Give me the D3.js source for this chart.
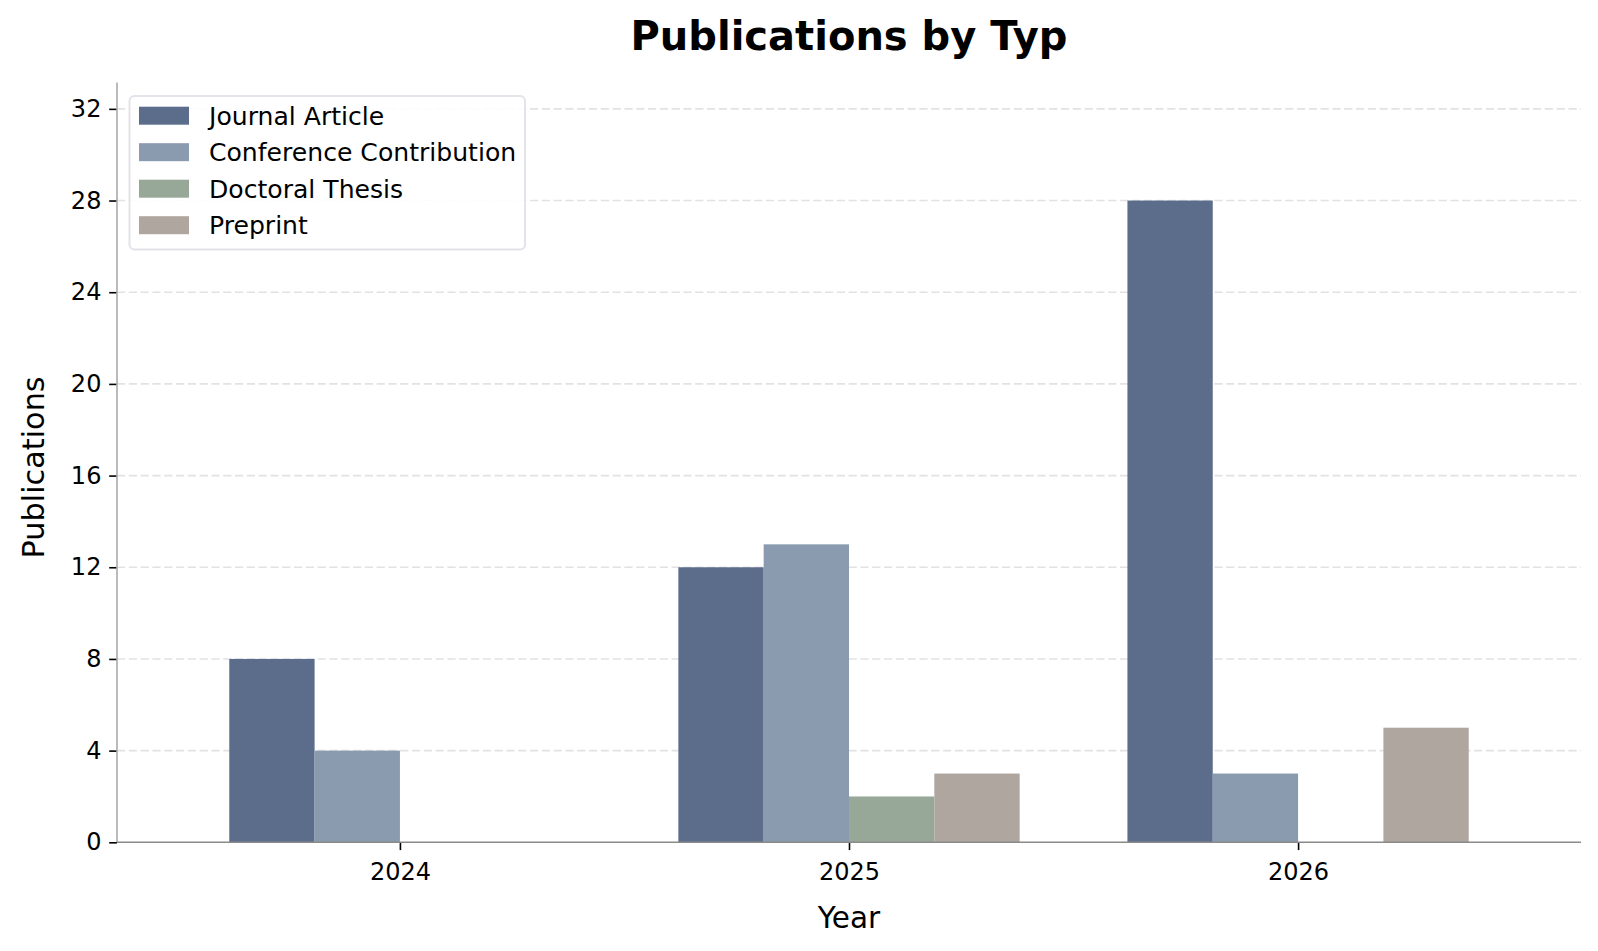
<!DOCTYPE html>
<html>
<head>
<meta charset="utf-8">
<script src="https://cdn.jsdelivr.net/npm/d3@7"></script>
<style>
  body { margin: 0; background: #fff; }
  svg { display: block; font-family: "DejaVu Sans", sans-serif; }
</style>
</head>
<body>
<svg id="chart"></svg>
<script>
const years = ["2024", "2025", "2026"]
const types = ["Journal Article", "Conference Contribution", "Doctoral Thesis", "Preprint"]
const journal = [8, 12, 28]
const conference = [4, 13, 3]
const thesis = [0, 2, 0]
const preprint = [0, 3, 5]
const yTicks = [0, 4, 8, 12, 16, 20, 24, 28, 32]
const colors = ["#5c6d8c", "#8a9aaf", "#98a898", "#afa6a0"]

const width = 1598
const height = 951
const plotLeft = 117, plotRight = 1581, plotTop = 82.5, plotBottom = 842.3
const barW = 0.19

const series = [journal, conference, thesis, preprint]

const svg = d3.select('#chart')
    .attr('width', width)
    .attr('height', height);

const x = d3.scaleLinear().domain([-0.63, 2.63]).range([plotLeft, plotRight]);
const y = d3.scaleLinear().domain([0, 33.15]).range([plotBottom, plotTop]);

// grid
svg.append('g')
    .selectAll('line')
    .data(yTicks.filter(d => d > 0))
    .enter()
    .append('line')
    .attr('x1', plotLeft)
    .attr('x2', plotRight)
    .attr('y1', d => y(d))
    .attr('y2', d => y(d))
    .attr('stroke', '#e2e2e4')
    .attr('stroke-width', 1.6)
    .attr('stroke-dasharray', '8.2,3.6');

// bars
let groups = svg.append('g')
    .selectAll('.series')
    .data(series)
    .enter()
    .append('g')
    .attr('class', 'series')
    .style('fill', (d, i) => colors[i]);

groups.selectAll('rect')
    .data((d, si) => d.map((v, yi) => ({v: v, pos: yi + (si - 1.5) * barW})))
    .enter()
    .append('rect')
    .attr('x', d => x(d.pos - barW / 2))
    .attr('width', d => x(d.pos + barW / 2) - x(d.pos - barW / 2))
    .attr('y', d => y(d.v))
    .attr('height', d => y(0) - y(d.v));

// axes
const yAxis = svg.append('g')
    .attr('transform', `translate(${plotLeft},0)`)
    .call(d3.axisLeft(y).tickValues(yTicks).tickSize(7.8).tickPadding(7.8));
yAxis.select('.domain').remove();
yAxis.selectAll('.tick line').attr('stroke', '#000').attr('stroke-width', 1.6);
yAxis.selectAll('.tick text')
    .style('font-family', '"DejaVu Sans", sans-serif')
    .style('font-size', '24px')
    .attr('fill', '#000');

const xAxis = svg.append('g')
    .attr('transform', `translate(0,${plotBottom})`)
    .call(d3.axisBottom(x).tickValues([0, 1, 2]).tickFormat(i => years[i]).tickSize(7.8).tickPadding(12.5));
xAxis.select('.domain').remove();
xAxis.selectAll('.tick line').attr('stroke', '#000').attr('stroke-width', 1.6);
xAxis.selectAll('.tick text')
    .style('font-family', '"DejaVu Sans", sans-serif')
    .style('font-size', '24px')
    .attr('fill', '#000');

// spines
svg.append('line')
    .attr('x1', plotLeft).attr('x2', plotLeft)
    .attr('y1', plotTop).attr('y2', plotBottom)
    .attr('stroke', '#aaaaaa').attr('stroke-width', 1.6);
svg.append('line')
    .attr('x1', plotLeft).attr('x2', plotRight)
    .attr('y1', plotBottom).attr('y2', plotBottom)
    .attr('stroke', '#8a8a8a').attr('stroke-width', 1.6);

// title and labels
svg.append('text')
    .attr('x', (plotLeft + plotRight) / 2)
    .attr('y', 50)
    .attr('text-anchor', 'middle')
    .style('font-size', '40px')
    .style('font-weight', 'bold')
    .text('Publications by Typ');

svg.append('text')
    .attr('x', (plotLeft + plotRight) / 2)
    .attr('y', 928)
    .attr('text-anchor', 'middle')
    .style('font-size', '29.5px')
    .text('Year');

svg.append('text')
    .attr('transform', `translate(44,${(plotTop + plotBottom) / 2 + 5}) rotate(-90)`)
    .attr('text-anchor', 'middle')
    .style('font-size', '30.3px')
    .text('Publications');

// legend
const legend = svg.append('g');
legend.append('rect')
    .attr('x', 129.5)
    .attr('y', 96)
    .attr('width', 395.5)
    .attr('height', 153.5)
    .attr('rx', 5)
    .attr('fill', '#fff')
    .attr('fill-opacity', 0.9)
    .attr('stroke', '#e3e3ea')
    .attr('stroke-width', 2);

let items = legend.selectAll('.item')
    .data(types)
    .enter()
    .append('g')
    .attr('class', 'item')
    .attr('transform', (d, i) => `translate(0,${115.7 + i * 36.5})`);
items.append('rect')
    .attr('x', 139)
    .attr('y', -9)
    .attr('width', 50)
    .attr('height', 18)
    .style('fill', (d, i) => colors[i]);
items.append('text')
    .attr('x', 209)
    .attr('y', 9)
    .style('font-size', '25.1px')
    .text(d => d);
</script>
</body>
</html>
